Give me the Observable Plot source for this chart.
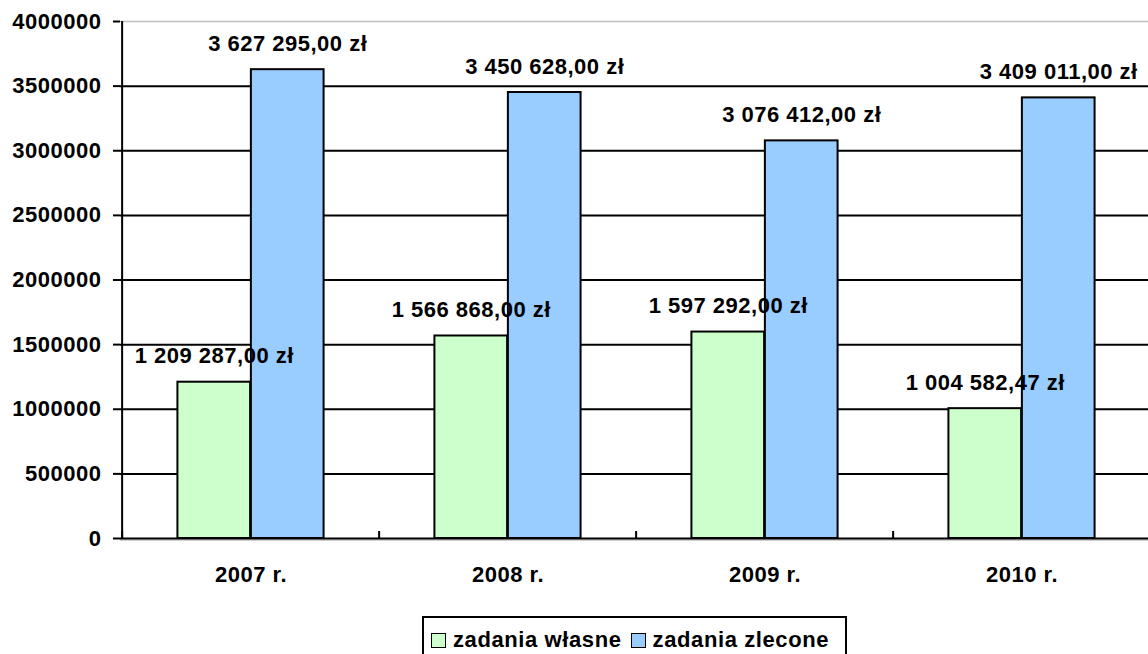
<!DOCTYPE html>
<html>
<head>
<meta charset="utf-8">
<script src="https://cdn.jsdelivr.net/npm/d3@7"></script>
<script src="https://cdn.jsdelivr.net/npm/@observablehq/plot@0.6"></script>
<style>
  html, body { margin: 0; padding: 0; background: #fff; }
  #wrap { position: relative; width: 1148px; height: 654px; overflow: hidden; }
  #legend {
    position: absolute; left: 422px; top: 616px; width: 425px; height: 60px;
    border: 2px solid #000; box-sizing: border-box; white-space: nowrap;
    font-family: "Liberation Sans", Arial, sans-serif; font-weight: bold; font-size: 22px; letter-spacing: 0.6px;
    display: flex; align-items: flex-start; padding: 9px 0 0 7px;
  }
  .item { display: flex; align-items: center; margin-right: 9px; flex: none; }
  .sw { width: 13px; height: 13px; border: 1.5px solid #000; margin-right: 7px; flex: none; }
</style>
</head>
<body>
<div id="wrap"></div>
<script>
const years = ["2007 r.", "2008 r.", "2009 r.", "2010 r."];
const seriesNames = ["zadania własne", "zadania zlecone"];
const wlasne = [1209287.00, 1566868.00, 1597292.00, 1004582.47];
const zlecone = [3627295.00, 3450628.00, 3076412.00, 3409011.00];
const colors = ["#CCFFCC", "#99CCFF"];
const yTicks = [0, 500000, 1000000, 1500000, 2000000, 2500000, 3000000, 3500000, 4000000];

const yMax = 4000000;
const xRange = [120, 1151];
const step = (xRange[1] - xRange[0]) / years.length;
const bw = step * 0.285;
const pad = (step - 2 * bw) / 2;

const table = years.flatMap((y, i) => [
  {year: y, series: seriesNames[0], value: wlasne[i]},
  {year: y, series: seriesNames[1], value: zlecone[i]}
]);

const pl = d3.formatLocale({decimal: ",", thousands: " ", grouping: [3], currency: ["", " zł"]});
const fmt = pl.format("$,.2f");

const font = {fontFamily: "'Liberation Sans', Arial, sans-serif", fontSize: "22px", fontWeight: "bold", letterSpacing: "0.5px", background: "white", color: "black", overflow: "visible"};

const chart = Plot.plot({
  width: 1148,
  height: 610,
  marginLeft: 120,
  marginRight: 0,
  marginTop: 21,
  marginBottom: 72,
  style: font,
  x: {type: "band", domain: years, range: xRange, padding: 0},
  y: {domain: [0, yMax]},
  marks: [
    Plot.ruleY(yTicks.filter(d => d > 0 && d < yMax), {stroke: "black", strokeWidth: 2}),
    Plot.ruleY([yMax], {stroke: "#c0c0c0", strokeWidth: 1.5}),
    Plot.ruleY([0], {stroke: "#c0c0c0", strokeWidth: 1.5, dy: 1.5}),
    Plot.barY(table.filter(d => d.series === seriesNames[0]), {x: "year", y: "value", fill: colors[0], stroke: "black", strokeWidth: 2, insetLeft: pad, insetRight: step - pad - bw}),
    Plot.barY(table.filter(d => d.series === seriesNames[1]), {x: "year", y: "value", fill: colors[1], stroke: "black", strokeWidth: 2, insetLeft: pad + bw, insetRight: pad}),
    Plot.ruleY([0], {stroke: "black", strokeWidth: 2}),
    Plot.ruleX([years[0]], {dx: -step / 2, y1: 0, y2: yMax, stroke: "black", strokeWidth: 2}),
    Plot.axisY({ticks: yTicks, tickSize: 7, tickPadding: 12, tickFormat: d3.format("d"), strokeWidth: 2, label: null}),
    Plot.axisX({tickSize: 7, dy: -7, dx: -step / 2, tickFormat: () => "", strokeWidth: 2, label: null}),
    Plot.axisX({tickSize: 0, tickPadding: 28, label: null}),
    Plot.text(table.filter(d => d.series === seriesNames[0]), {x: "year", y: "value", text: d => fmt(d.value), dx: -bw / 2, dy: -19, lineAnchor: "bottom"}),
    Plot.text(table.filter(d => d.series === seriesNames[1]), {x: "year", y: "value", text: d => fmt(d.value), dx: bw / 2, dy: -19, lineAnchor: "bottom"})
  ]
});

const wrap = document.getElementById("wrap");
wrap.appendChild(chart);

const legend = document.createElement("div");
legend.id = "legend";
seriesNames.forEach((name, i) => {
  const item = document.createElement("div");
  item.className = "item";
  const sw = document.createElement("div");
  sw.className = "sw";
  sw.style.background = colors[i];
  const t = document.createElement("span");
  t.textContent = name;
  item.appendChild(sw);
  item.appendChild(t);
  legend.appendChild(item);
});
wrap.appendChild(legend);
</script>
</body>
</html>
